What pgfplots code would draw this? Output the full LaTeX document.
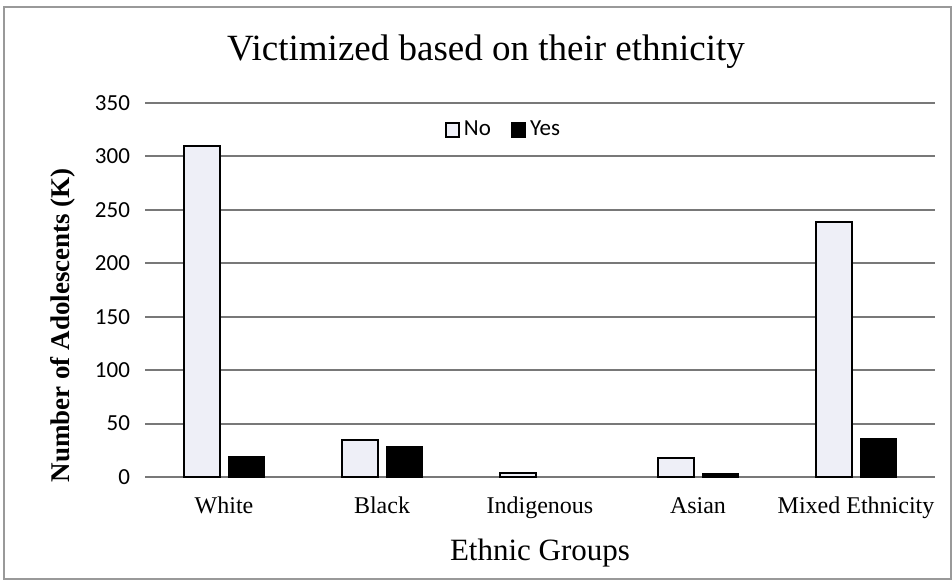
\documentclass[border=0pt]{standalone}
\usepackage{pgfplots}
\pgfplotsset{compat=1.18}
\usepackage{fontspec}
\setmainfont{Liberation Serif}
\newfontfamily\legfont{Carlito}
\definecolor{barfill}{RGB}{238,239,247}
\definecolor{gridc}{RGB}{120,120,120}
\begin{document}
\begin{tikzpicture}
\useasboundingbox (0,0) rectangle (476pt,290pt);
\draw[gray!80, line width=0.8pt] (2pt,0.5pt) rectangle (475.6pt,286.5pt);
\node[font=\fontsize{18.5}{21}\selectfont] at (243pt,264pt) {Victimized based on their ethnicity};
\begin{axis}[
  at={(72.5pt,51.5pt)}, anchor=south west,
  scale only axis, width=395pt, height=187pt,
  xmin=-0.5, xmax=4.5, ymin=0, ymax=350,
  ytick={0,50,...,350},
  xtick={0,1,2,3,4},
  xticklabels={White,Black,Indigenous,Asian,Mixed Ethnicity},
  axis line style={draw=none},
  major tick length=0pt,
  ymajorgrids, grid style={gridc, line width=1pt},
  yticklabel style={font=\legfont\fontsize{11.5}{13}\selectfont, xshift=-4pt},
  xticklabel style={font=\fontsize{12}{14}\selectfont, yshift=-7.5pt, text height=1.6ex, text depth=0.4ex},
  /pgf/number format/assume math mode=true,
  xlabel={Ethnic Groups},
  xlabel style={font=\fontsize{15.5}{18}\selectfont, yshift=-4pt},
  ylabel={Number of Adolescents (K)},
  ylabel style={font=\bfseries\fontsize{13.5}{16}\selectfont, at={(ticklabel cs:0.406)}, yshift=3pt},
  ybar, bar width=18pt,
  legend style={at={(0.455,0.928)}, anchor=center, draw=none, fill=white,
     font=\legfont\fontsize{11.5}{13}\selectfont, legend columns=2,
     /tikz/every even column/.append style={column sep=8pt}},
  legend image code/.code={\draw[#1, line width=1pt] (0pt,-3.3pt) rectangle (6.6pt,3.3pt);},
]
\addplot[draw=black, line width=1pt, fill=barfill, bar shift=-11pt] coordinates {(0,310) (1,35) (2,4) (3,18) (4,239)};
\addplot[draw=black, fill=black, bar shift=11pt] coordinates {(0,19) (1,29) (3,3) (4,36)};
\legend{No,Yes}
\end{axis}
\end{tikzpicture}
\end{document}
